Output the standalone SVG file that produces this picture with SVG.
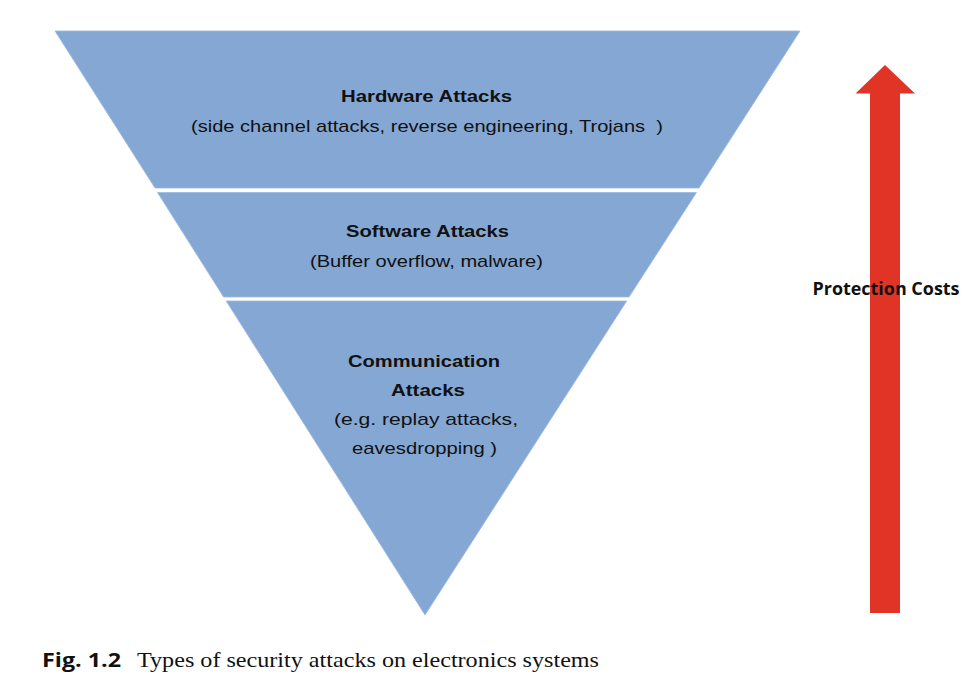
<svg xmlns="http://www.w3.org/2000/svg" width="969" height="686" viewBox="0 0 969 686">
<style>
.band{fill:#84a7d4;stroke:#9db9de;stroke-width:0.8}
.t{font-family:"Liberation Sans",Arial,sans-serif;font-size:17px;fill:#111;text-anchor:middle}
.b{font-weight:bold}
</style>
<rect width="969" height="686" fill="#fff"/>
<g id="hardware">
<polygon class="band" points="55,31 800,31 699,188 155,188"/>
<text class="t b" x="426.5" y="102" textLength="171" lengthAdjust="spacingAndGlyphs">Hardware Attacks</text>
<text class="t" x="427" y="132" textLength="472" lengthAdjust="spacingAndGlyphs">(side channel attacks, reverse engineering, Trojans&#160;&#160;)</text>
</g>
<g id="software">
<polygon class="band" points="157.5,192.5 696.5,192.5 629,297 223.6,297"/>
<text class="t b" x="427.5" y="237" textLength="163" lengthAdjust="spacingAndGlyphs">Software Attacks</text>
<text class="t" x="426.5" y="267" textLength="233" lengthAdjust="spacingAndGlyphs">(Buffer overflow, malware)</text>
</g>
<g id="communication">
<polygon class="band" points="226.2,301 626.7,301 425,615"/>
<text class="t b" x="424" y="367" textLength="152" lengthAdjust="spacingAndGlyphs">Communication</text>
<text class="t b" x="428" y="396" textLength="74" lengthAdjust="spacingAndGlyphs">Attacks</text>
<text class="t" x="426" y="425" textLength="184" lengthAdjust="spacingAndGlyphs">(e.g. replay attacks,</text>
<text class="t" x="424.5" y="454" textLength="145" lengthAdjust="spacingAndGlyphs">eavesdropping )</text>
</g>
<g id="arrow">
<polygon fill="#e03426" points="885,65 915,93.5 900,93.5 900,613 870,613 870,93.5 855.5,93.5"/>
<text x="886" y="295" font-family="'Open Sans','Noto Sans',sans-serif" font-weight="bold" font-size="17.5" fill="#111" text-anchor="middle" textLength="147" lengthAdjust="spacingAndGlyphs">Protection Costs</text>
</g>
<g id="caption">
<text x="42" y="667" font-family="'Open Sans','Noto Sans',sans-serif" font-weight="bold" font-size="20" fill="#111" textLength="79" lengthAdjust="spacingAndGlyphs">Fig. 1.2</text>
<text x="137" y="667" font-family="'Liberation Serif','Times New Roman',serif" font-size="22" fill="#111" textLength="462" lengthAdjust="spacingAndGlyphs">Types of security attacks on electronics systems</text>
</g>
</svg>
